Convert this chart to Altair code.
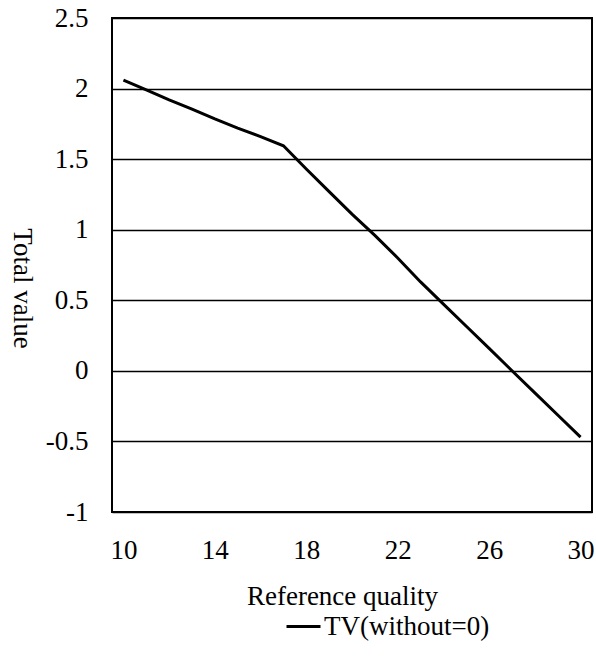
import altair as alt
import pandas as pd

quality = [10, 11, 12, 13, 14, 15, 16, 17, 18, 19, 20, 21, 22, 23, 24, 25, 26, 27, 28, 29, 30]
tv_values = [2.06, 1.99, 1.92, 1.855, 1.785, 1.72, 1.66, 1.595, 1.43, 1.27, 1.11, 0.96, 0.80, 0.63,
             0.473, 0.316, 0.159, 0.001, -0.156, -0.313, -0.47]
series_name = "TV(without=0)"
x_ticks = [10, 14, 18, 22, 26, 30]
y_ticks = [-1, -0.5, 0, 0.5, 1, 1.5, 2, 2.5]

df = pd.DataFrame({"quality": quality, "value": tv_values, "series": [series_name] * len(quality)})

FONT = "Liberation Serif"
FS = 27
label_expr = "datum.value < 0 ? '-' + format(-datum.value, '') : format(datum.value, '')"

chart = alt.Chart(df).mark_line(strokeWidth=3, color="black").encode(
    x=alt.X("quality:Q",
            scale=alt.Scale(domain=[9.5, 30.5], nice=False, zero=False),
            axis=alt.Axis(values=x_ticks, title="Reference quality", grid=False, ticks=False,
                          domain=False, labelPadding=38, labelBaseline="middle",
                          titleBaseline="alphabetic", titleY=92, titleX=230,
                          labelFontSize=FS, titleFontSize=FS, labelFont=FONT, titleFont=FONT,
                          labelColor="black", titleColor="black", titleFontWeight="normal")),
    y=alt.Y("value:Q",
            scale=alt.Scale(domain=[-1, 2.5], nice=False, zero=False),
            axis=alt.Axis(values=y_ticks, title="Total value", grid=True, gridColor="black",
                          gridWidth=1.5, gridOpacity=1, ticks=False, domain=False,
                          labelExpr=label_expr,
                          labelPadding=24, labelFontSize=FS, titleFontSize=FS,
                          labelFont=FONT, titleFont=FONT, labelColor="black", titleColor="black",
                          titleFontWeight="normal", titleAngle=90, titleBaseline="middle",
                          titleAlign="center", titleX=-91, titleY=270)),
    color=alt.Color("series:N", scale=alt.Scale(range=["black"]),
                    legend=alt.Legend(title=None, orient="none", legendX=173, legendY=590,
                                      symbolType="stroke", symbolSize=1156, symbolStrokeWidth=3,
                                      labelFontSize=FS, labelFont=FONT, labelColor="black",
                                      labelLimit=400, labelOffset=2, padding=0)),
).properties(
    width=480, height=494,
    background="white",
    autosize=alt.AutoSizeParams(type="none"),
    padding={"left": 112, "top": 18, "right": 4, "bottom": 146},
).configure_view(
    stroke="black", strokeWidth=2
)

chart.save("out.html", embed_options={"renderer": "svg", "actions": False})
